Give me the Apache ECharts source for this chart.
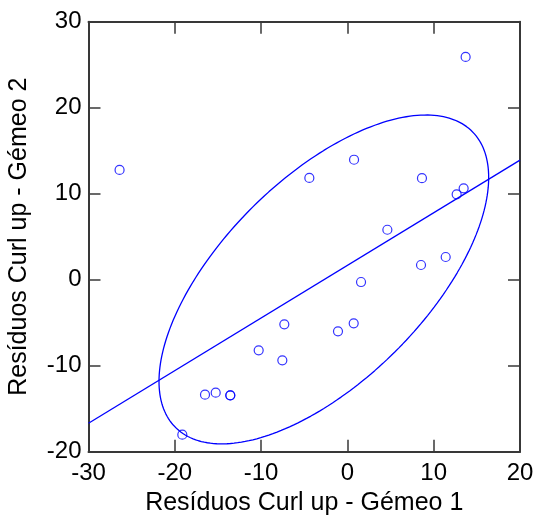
<!DOCTYPE html>
<html>
<head>
<meta charset="utf-8">
<style>
  html, body { margin: 0; padding: 0; background: #fff; }
  #chart { width: 537px; height: 525px; }
</style>
<script src="https://cdn.jsdelivr.net/npm/echarts@6/dist/echarts.min.js"></script>
</head>
<body>
<div id="chart"></div>
<script>
// Residuals of the curl-up test, twin 1 (x) versus twin 2 (y)
const twin1 = [13.7, 0.77, -26.4, -4.41, 8.64, 12.66, 13.47, 4.63, 11.39, 8.53, 1.58,
               -7.31, 0.73, -1.09, -10.28, -7.54, -16.5, -15.26, -13.57, -13.57, -19.13];
const twin2 = [25.9, 13.95, 12.76, 11.83, 11.8, 9.93, 10.63, 5.81, 2.64, 1.71, -0.27,
               -5.19, -5.07, -6.0, -8.21, -9.37, -13.37, -13.14, -13.44, -13.44, -18.02];

// Axis ranges and ticks
const xTicks = [-30, -20, -10, 0, 10, 20];
const yTicks = [-20, -10, 0, 10, 20, 30];

// Fitted regression line: y = intercept + slope * x
const fitIntercept = 1.67;
const fitSlope = 0.612;

// Bivariate normal ellipse: centre, half-extents along x and y, correlation
const ellCenter = [-2.73, 0.03];
const ellHalfX = 19.1;
const ellHalfY = 19.12;
const ellRho = 0.62;

const blue = '#0000ff';
const frame = '#383838';
const fontFamily = '"Liberation Sans", Arial, sans-serif';

const points = twin1.map((x, i) => [x, twin2[i]]);

const xMin = xTicks[0], xMax = xTicks[xTicks.length - 1];
const yMin = yTicks[0], yMax = yTicks[yTicks.length - 1];

const fitLine = [xMin, xMax].map(x => [x, fitIntercept + fitSlope * x]);

const ellipse = [];
const steps = 240;
for (let k = 0; k <= steps; k++) {
  const t = (2 * Math.PI * k) / steps;
  const x = ellCenter[0] + ellHalfX * Math.cos(t);
  const y = ellCenter[1] + ellHalfY * (ellRho * Math.cos(t) + Math.sqrt(1 - ellRho * ellRho) * Math.sin(t));
  ellipse.push([x, y]);
}

const tickStyle = { show: true, inside: true, length: 12, lineStyle: { color: frame, width: 1.5 } };
const lineStyleAxis = { show: true, onZero: false, lineStyle: { color: frame, width: 2 } };
const labelStyle = { color: '#000', fontSize: 24, fontFamily: fontFamily };

const chart = echarts.init(document.getElementById('chart'), null, { renderer: 'canvas' });
chart.setOption({
  animation: false,
  backgroundColor: '#fff',
  grid: { left: 88.5, right: 17, top: 21.7, bottom: 73.3, containLabel: false, outerBoundsMode: 'none' },
  xAxis: [
    {
      type: 'value', min: xMin, max: xMax, interval: 10, position: 'bottom',
      axisLine: lineStyleAxis, axisTick: tickStyle, splitLine: { show: false },
      axisLabel: Object.assign({ margin: 10, showMinLabel: true, showMaxLabel: true, hideOverlap: false }, labelStyle),
      name: 'Resíduos Curl up - Gémeo 1', nameLocation: 'middle', nameGap: 39,
      nameTextStyle: { color: '#000', fontSize: 25, fontFamily: fontFamily }
    },
    {
      type: 'value', min: xMin, max: xMax, interval: 10, position: 'top',
      axisLine: lineStyleAxis, axisTick: tickStyle, splitLine: { show: false },
      axisLabel: { show: false }
    }
  ],
  yAxis: [
    {
      type: 'value', min: yMin, max: yMax, interval: 10, position: 'left',
      axisLine: lineStyleAxis, axisTick: tickStyle, splitLine: { show: false },
      axisLabel: Object.assign({ margin: 7, showMinLabel: true, showMaxLabel: true, hideOverlap: false }, labelStyle),
      name: 'Resíduos Curl up - Gémeo 2', nameLocation: 'middle', nameGap: 57, nameRotate: 90,
      nameTextStyle: { color: '#000', fontSize: 25, fontFamily: fontFamily }
    },
    {
      type: 'value', min: yMin, max: yMax, interval: 10, position: 'right',
      axisLine: lineStyleAxis, axisTick: tickStyle, splitLine: { show: false },
      axisLabel: { show: false }
    }
  ],
  series: [
    {
      type: 'line', data: ellipse, showSymbol: false, symbol: 'none', smooth: false,
      lineStyle: { color: blue, width: 1.3 }, silent: true, z: 2
    },
    {
      type: 'line', data: fitLine, showSymbol: false, symbol: 'none',
      lineStyle: { color: blue, width: 1.3 }, silent: true, z: 2
    },
    {
      type: 'scatter', data: points, symbol: 'circle', symbolSize: 9,
      itemStyle: { color: 'rgba(255,255,255,0)', borderColor: blue, borderWidth: 1.2 }, z: 3
    }
  ]
});
</script>
</body>
</html>
